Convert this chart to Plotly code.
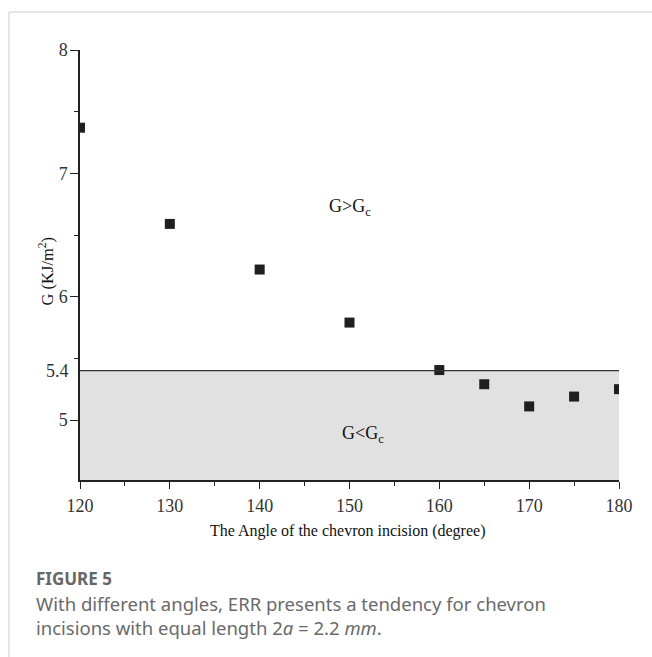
import plotly.graph_objects as go

angles = [120, 130, 140, 150, 160, 165, 170, 175, 180]
g_values = [7.37, 6.59, 6.22, 5.79, 5.405, 5.29, 5.11, 5.19, 5.25]
threshold = 5.4
x_ticks = [120, 130, 140, 150, 160, 170, 180]
y_ticks = [5, 6, 7, 8]
y_range = [4.5135, 8.0]
x_range = [120, 180]

serif = "Liberation Serif, Times New Roman, serif"
sans = "Noto Sans, Open Sans, sans-serif"

fig = go.Figure()

fig.add_trace(go.Scatter(
    x=angles, y=g_values, mode="markers",
    marker=dict(symbol="square", size=10, color="#1f1f1f", line=dict(width=0)),
    cliponaxis=True, showlegend=False,
))

# shaded region G < Gc
fig.add_shape(type="rect", xref="x", yref="y", x0=x_range[0], x1=x_range[1],
              y0=y_range[0], y1=threshold, fillcolor="#e1e1e1",
              line=dict(width=0), layer="below")
fig.add_shape(type="line", xref="x", yref="y", x0=x_range[0], x1=x_range[1],
              y0=threshold, y1=threshold, line=dict(color="#333333", width=1.2))

# frame lines
fig.add_shape(type="line", xref="paper", yref="paper", x0=-0.1317, x1=1.1,
              y0=1.0884, y1=1.0884, line=dict(color="#cccccc", width=1))
fig.add_shape(type="line", xref="paper", yref="paper", x0=-0.1317, x1=-0.1317,
              y0=1.0884, y1=-0.42, line=dict(color="#cccccc", width=1))

fig.add_annotation(x=150, y=6.72, xref="x", yref="y", text="G>G<sub>c</sub>",
                   showarrow=False, font=dict(family=serif, size=18, color="#111"))
fig.add_annotation(x=151.5, y=4.88, xref="x", yref="y", text="G<G<sub>c</sub>",
                   showarrow=False, font=dict(family=serif, size=18, color="#111"))
fig.add_annotation(x=-0.0175, y=threshold, xref="paper", yref="y", text="5.4",
                   showarrow=False, xanchor="right",
                   font=dict(family=serif, size=18, color="#333"))

# axis titles
fig.add_annotation(x=0.497, y=-0.1186, xref="paper", yref="paper",
                   text="The Angle of the chevron incision (degree)", showarrow=False,
                   yanchor="middle", font=dict(family=serif, size=16, color="#111"))
fig.add_annotation(x=-0.063, y=0.485, xref="paper", yref="paper",
                   text="G (KJ/m<sup>2</sup>)", showarrow=False, textangle=-90,
                   xanchor="center", yanchor="middle",
                   font=dict(family=serif, size=16.5, color="#111"))

fig.add_annotation(x=-0.085, y=-0.228, xref="paper", yref="paper",
                   text="<b>FIGURE 5</b>", showarrow=False, xanchor="left", yanchor="middle",
                   font=dict(family=sans, size=17, color="#666"))
fig.add_annotation(x=-0.085, y=-0.314, xref="paper", yref="paper",
                   text="With different angles, ERR presents a tendency for chevron<br>incisions with equal length 2<i>a</i> = 2.2 <i>mm</i>.",
                   showarrow=False, xanchor="left", yanchor="middle", align="left",
                   font=dict(family=sans, size=18.5, color="#6a6a6a"))

fig.update_xaxes(range=x_range, tickvals=x_ticks, ticks="outside", ticklen=7,
                 tickwidth=1.3, tickcolor="#222", showline=True, linecolor="#222",
                 linewidth=1.5, showgrid=False, zeroline=False, ticklabelstandoff=2,
                 tickfont=dict(family=serif, size=18, color="#333"),
                 minor=dict(tickvals=[125, 135, 145, 155, 165, 175], ticks="outside",
                            ticklen=4, tickwidth=1.3, tickcolor="#222"))
fig.update_yaxes(range=y_range, tickvals=y_ticks, ticks="outside", ticklen=8,
                 tickwidth=1.3, tickcolor="#222", showline=True, linecolor="#222",
                 linewidth=1.5, showgrid=False, zeroline=False, ticklabelstandoff=-1,
                 tickfont=dict(family=serif, size=18, color="#333"),
                 minor=dict(tickvals=[5.5, 6.5, 7.5], ticks="outside",
                            ticklen=4, tickwidth=1.3, tickcolor="#222"))

fig.update_layout(width=652, height=657, margin=dict(l=80, r=33, t=50, b=177),
                  plot_bgcolor="white", paper_bgcolor="white")

fig.write_html("out.html")
